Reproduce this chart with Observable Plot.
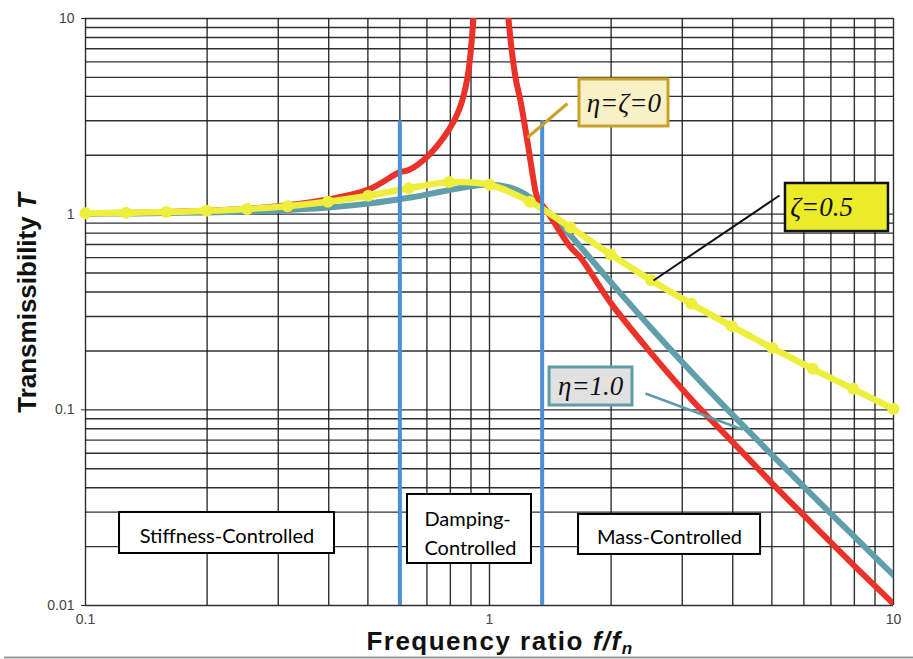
<!DOCTYPE html>
<html><head><meta charset="utf-8">
<script src="https://cdn.jsdelivr.net/npm/d3@7"></script>
<script src="https://cdn.jsdelivr.net/npm/@observablehq/plot@0.6"></script>
<style>body{margin:0;background:#fff}#chart{width:913px;height:659px}</style>
</head><body><div id="chart"></div>
<script>
// grid and tick values
const xGrid = [0.1,0.2,0.3,0.4,0.5,0.6,0.7,0.8,0.9,1,2,3,4,5,6,7,8,9,10];
const yGrid = [0.01,0.02,0.03,0.04,0.05,0.06,0.07,0.08,0.09,0.1,0.2,0.3,0.4,0.5,0.6,0.7,0.8,0.9,1,2,3,4,5,6,7,8,9,10];
const xTicks = [0.1,1,10];
const yTicks = [0.01,0.1,1,10];
const xTickLabels = ["0.1","1","10"];
const yTickLabels = ["0.01","0.1","1","10"];

// η=ζ=0 (red)
const redR = [0.1,0.1259,0.1585,0.1995,0.2512,0.3162,0.3981,0.5012,0.6,0.631,0.7079,0.7943,0.8414,0.882,0.913,0.935,1.09,1.114,1.16,1.193,1.244,1.282,1.313,1.402,1.585,1.68,1.995,2.512,3.162,3.981,5.012,6.31,7.943,10];
const redT = [1.010,1.016,1.026,1.041,1.067,1.111,1.188,1.335,1.64,1.68,2.005,2.71,3.42,4.98,10,20,20,10,4.98,3.8,2.29,1.545,1.22,1.0,0.68,0.6,0.352,0.195,0.113,0.069,0.042,0.026,0.0162,0.0102];

// η=1.0 (teal)
const tealR = [0.1,0.1259,0.1585,0.1995,0.2512,0.3162,0.3981,0.5012,0.631,0.7079,0.7943,0.8913,1.0,1.122,1.259,1.4125,1.585,1.995,2.512,3.162,3.981,5.012,6.31,7.943,10];
const tealT = [1.005,1.008,1.013,1.020,1.032,1.051,1.082,1.132,1.212,1.266,1.327,1.385,1.414,1.369,1.221,1.002,0.780,0.450,0.262,0.156,0.095,0.0586,0.0364,0.0228,0.0143];

// ζ=0.5 (yellow, with markers)
const yelR = [0.1,0.1259,0.1585,0.1995,0.2512,0.3162,0.3981,0.5012,0.631,0.7943,1.0,1.259,1.585,1.995,2.512,3.162,3.981,5.012,6.31,7.943,10];
const yelT = [1.010,1.016,1.025,1.040,1.063,1.099,1.156,1.241,1.356,1.458,1.414,1.158,0.856,0.622,0.460,0.348,0.267,0.207,0.162,0.128,0.101];

// region boundaries
const bounds = [0.6, 1.35];
const boundTop = 3;

// region label boxes
const regionText = ["Stiffness-Controlled", "Damping-\nControlled", "Mass-Controlled"];
const regionX1 = [0.1214, 0.6266, 1.661];
const regionX2 = [0.4134, 1.2705, 4.688];
const regionY1 = [0.01844, 0.01639, 0.01823];
const regionY2 = [0.02988, 0.03694, 0.02919];
const regionTextX = [0.224, 0.69, 2.79];
const regionTextY = [0.0232, 0.0241, 0.0229];
const regionAnchor = ["middle", "start", "middle"];

// curve labels
const curveLabel = ["η=ζ=0", "ζ=0.5", "η=1.0"];
const labX1 = [1.670, 5.403, 1.408];
const labX2 = [2.774, 9.718, 2.259];
const labY1 = [2.806, 0.815, 0.1052];
const labY2 = [4.88, 1.435, 0.1646];
const labTextX = [2.15, 5.55, 1.78];
const labAnchor = ["middle", "start", "middle"];
const labFill = ["#f8f1c6", "#eceb2a", "#e1e1e1"];
const labStroke = ["#c9a22a", "#111111", "#5f9ba8"];
const labStrokeW = [3, 2.5, 3];
// leader lines
const leadX1 = [1.242, 2.546, 2.433];
const leadY1 = [2.465, 0.458, 0.1212];
const leadX2 = [1.560, 5.222, 4.229];
const leadY2 = [3.678, 1.246, 0.0793];
const leadStroke = ["#c9a22a", "#111111", "#5f9ba8"];
const leadW = [3, 2, 2.5];

const red = redR.map((r,i)=>({r, t: redT[i]}));
const teal = tealR.map((r,i)=>({r, t: tealT[i]}));
const yel = yelR.map((r,i)=>({r, t: yelT[i]}));
const regions = regionText.map((s,i)=>({s, x1: regionX1[i], x2: regionX2[i], y1: regionY1[i], y2: regionY2[i], tx: regionTextX[i], ty: regionTextY[i], a: regionAnchor[i]}));
const labs = curveLabel.map((s,i)=>({s, x1: labX1[i], x2: labX2[i], y1: labY1[i], y2: labY2[i], tx: labTextX[i], ty: Math.sqrt(labY1[i]*labY2[i]), a: labAnchor[i], fill: labFill[i], stroke: labStroke[i], sw: labStrokeW[i]}));
const leads = leadX1.map((x,i)=>({x1: x, y1: leadY1[i], x2: leadX2[i], y2: leadY2[i], c: leadStroke[i], w: leadW[i]}));
const xLab = xTicks.map((v,i)=>({v, s: xTickLabels[i]}));
const yLab = yTicks.map((v,i)=>({v, s: yTickLabels[i]}));

const regionTextMark = a => Plot.text(regions.filter(d => d.a === a), {x: "tx", y: "ty", text: "s", textAnchor: a, fontSize: 20, lineHeight: 1.45, fontFamily: "Lato, sans-serif", fill: "#000"});
const labTextMark = a => Plot.text(labs.filter(d => d.a === a), {x: "tx", y: "ty", text: "s", textAnchor: a, fontSize: 27, fontStyle: "italic", fontFamily: "Liberation Serif, serif", fill: "#111"});

const chart = Plot.plot({
  width: 913, height: 659,
  marginLeft: 85, marginRight: 20, marginTop: 18, marginBottom: 54,
  x: {type: "log", domain: [0.1, 10], axis: null},
  y: {type: "log", domain: [0.01, 10], axis: null},
  style: {fontFamily: "Liberation Sans, Arial, sans-serif", background: "#fff"},
  marks: [
    Plot.ruleX(xGrid, {stroke: "#1a1a1a", strokeWidth: 1.4, strokeOpacity: 0.9}),
    Plot.ruleY(yGrid, {stroke: "#1a1a1a", strokeWidth: 1.4, strokeOpacity: 0.9}),
    Plot.axisY(yTicks, {tickSize: 4, tickFormat: () => "", stroke: "#333", label: null}),
    Plot.text(yLab, {x: 0.1, y: "v", text: "s", dx: -11, textAnchor: "end", fontSize: 14, fill: "#444", fontFamily: "Liberation Sans, Arial, sans-serif"}),
    Plot.text(xLab, {x: "v", y: 0.01, text: "s", dy: 14, textAnchor: "middle", fontSize: 14, fill: "#444", fontFamily: "Liberation Sans, Arial, sans-serif"}),
    Plot.line(teal, {x: "r", y: "t", stroke: "#5f9eaa", strokeWidth: 6, curve: "catmull-rom", clip: true}),
    Plot.line(red, {x: "r", y: "t", stroke: "#ea3229", strokeWidth: 6, curve: "catmull-rom", clip: true}),
    Plot.line(yel, {x: "r", y: "t", stroke: "#eeee3c", strokeWidth: 6.5, curve: "catmull-rom"}),
    Plot.dot(yel, {x: "r", y: "t", r: 6, fill: "#eeee3c"}),
    Plot.ruleX(bounds, {y1: 0.01, y2: boundTop, stroke: "#4a8fd8", strokeWidth: 4}),
    Plot.rect(regions, {x1: "x1", x2: "x2", y1: "y1", y2: "y2", fill: "#fff", stroke: "#000", strokeWidth: 2}),
    regionTextMark("middle"),
    regionTextMark("start"),
    Plot.link(leads, {x1: "x1", y1: "y1", x2: "x2", y2: "y2", stroke: "c", strokeWidth: "w"}),
    Plot.rect(labs, {x1: "x1", x2: "x2", y1: "y1", y2: "y2", fill: "fill", stroke: "stroke", strokeWidth: "sw"}),
    labTextMark("middle"),
    labTextMark("start")
  ]
});
document.getElementById("chart").appendChild(chart);

const svg = d3.select(chart);
const yt = svg.append("text")
  .attr("transform", "translate(36,303) rotate(-90)")
  .attr("text-anchor", "middle")
  .attr("font-family", "Liberation Sans, Arial, sans-serif")
  .attr("font-weight", "bold").attr("font-size", 26).attr("fill", "#111");
yt.append("tspan").text("Transmissibility ");
yt.append("tspan").attr("font-style", "italic").text("T");

const xt = svg.append("text")
  .attr("x", 500).attr("y", 650)
  .attr("text-anchor", "middle")
  .attr("font-family", "Liberation Sans, Arial, sans-serif")
  .attr("font-weight", "bold").attr("font-size", 26).attr("letter-spacing", 1.5).attr("fill", "#111");
xt.append("tspan").text("Frequency ratio ");
xt.append("tspan").attr("font-style", "italic").text("f/f");
xt.append("tspan").attr("font-style", "italic").attr("font-size", 17).attr("dy", 4).text("n");

svg.append("line").attr("x1", 4).attr("x2", 913).attr("y1", 657.5).attr("y2", 657.5)
  .attr("stroke", "#999").attr("stroke-width", 2);
</script>
</body></html>
